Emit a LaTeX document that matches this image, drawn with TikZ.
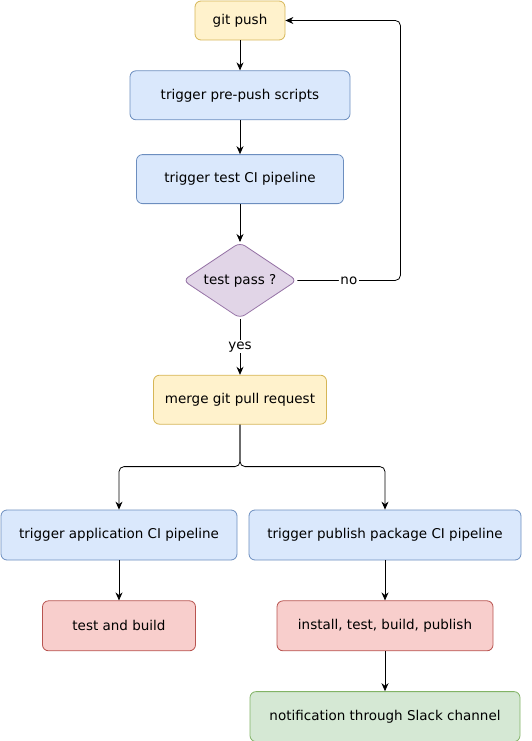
\documentclass[tikz,border=0pt]{standalone}
\usepackage{fontspec}
\setmainfont{DejaVu Sans}
\usetikzlibrary{positioning, shapes.geometric, arrows.meta}
\definecolor{yfill}{HTML}{FFF2CC}\definecolor{ydraw}{HTML}{D6B656}
\definecolor{bfill}{HTML}{DAE8FC}\definecolor{bdraw}{HTML}{6C8EBF}
\definecolor{pfill}{HTML}{E1D5E7}\definecolor{pdraw}{HTML}{9673A6}
\definecolor{rfill}{HTML}{F8CECC}\definecolor{rdraw}{HTML}{B85450}
\definecolor{gfill}{HTML}{D5E8D4}\definecolor{gdraw}{HTML}{82B366}
\tikzset{
    box/.style={draw, rectangle, rounded corners=6pt, line width=0.8pt, minimum height=49pt, inner sep=2pt},
    gitbox/.style={box, fill=yfill, draw=ydraw},
    cibox/.style={box, fill=bfill, draw=bdraw},
    jobbox/.style={box, fill=rfill, draw=rdraw},
    notebox/.style={box, fill=gfill, draw=gdraw},
    arr/.style={-{Stealth[length=8pt, width=7pt]}, line width=0.8pt},
    lbl/.style={fill=white, inner sep=1.5pt}
}
\begin{document}
\begin{tikzpicture}[x=1pt, y=-1pt, font=\fontsize{13.5}{16}\selectfont]
    \useasboundingbox (0,0) rectangle (531,741);

    \node[gitbox, minimum width=90pt, minimum height=39pt] (push) at (240,20.5) {git push};
    \node[cibox, minimum width=220pt, below=30pt of push] (prepush) {trigger pre-push scripts};
    \node[cibox, minimum width=207pt, below=34pt of prepush] (testci) {trigger test CI pipeline};
    \node[draw=pdraw, fill=pfill, diamond, rounded corners=6pt, line width=0.8pt, inner sep=0pt,
          minimum width=114pt, minimum height=76pt, below=38pt of testci] (pass) {\makebox[0pt]{test pass ?}};
    \node[gitbox, minimum width=173pt, below=56pt of pass] (merge) {merge git pull request};

    \node[cibox, minimum width=236pt, minimum height=50pt] (appci) at (119,535) {trigger application CI pipeline};
    \node[cibox, minimum width=272pt, minimum height=50pt] (pubci) at (385,535) {trigger publish package CI pipeline};
    \node[jobbox, minimum width=153pt, minimum height=50pt, below=40pt of appci] (build) {test and build};
    \node[jobbox, minimum width=216pt, minimum height=50pt, below=40pt of pubci] (publish) {install, test, build, publish};
    \node[notebox, minimum width=270pt, minimum height=50pt, below=40pt of publish] (slack) {notification through Slack channel};

    \draw[arr] (push) -- (prepush);
    \draw[arr] (prepush) -- (testci);
    \draw[arr] (testci) -- (pass);
    \draw[arr] (pass.south) -- node[lbl] {yes} (merge.north);
    \draw[arr, rounded corners=5pt] (pass.east) -- node[lbl] {no} ++(103,0) |- (push.east);
    \draw[arr, rounded corners=5pt] (merge.south) -- ++(0,42) -| (appci.north);
    \draw[arr, rounded corners=5pt] (merge.south) -- ++(0,42) -| (pubci.north);
    \draw[arr] (appci) -- (build);
    \draw[arr] (pubci) -- (publish);
    \draw[arr] (publish) -- (slack);
\end{tikzpicture}
\end{document}
